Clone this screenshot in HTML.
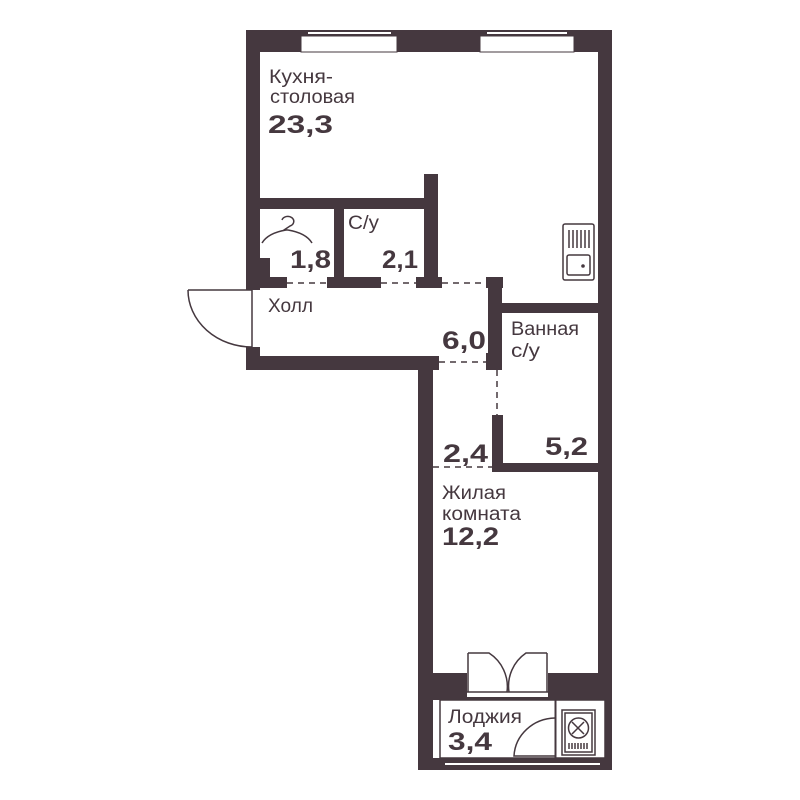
<!DOCTYPE html>
<html><head><meta charset="utf-8"><style>
html,body{margin:0;padding:0;background:#fff;}
svg{display:block}
text{font-family:"Liberation Sans",sans-serif;fill:#45383f}
.l{font-size:19px}
.n{font-size:25px;font-weight:bold}
</style></head><body>
<svg width="800" height="800" viewBox="0 0 800 800">
<g fill="#45383f">
<rect x="246" y="30" width="366" height="22"/>
<rect x="246" y="30" width="14" height="260"/>
<rect x="598" y="30" width="14" height="740"/>
<rect x="246" y="347" width="14" height="23"/>
<rect x="246" y="356" width="193" height="14"/>
<rect x="418" y="356" width="15" height="414"/>
<rect x="418" y="673" width="194" height="27"/>
<rect x="418" y="758" width="194" height="12"/>
<rect x="260" y="198" width="177" height="11"/>
<rect x="424" y="174" width="14" height="108"/>
<rect x="334" y="209" width="10" height="73"/>
<rect x="260" y="277" width="27" height="11"/>
<rect x="260" y="258" width="10" height="30"/>
<rect x="327" y="277" width="54" height="11"/>
<rect x="416" y="277" width="26" height="11"/>
<rect x="486" y="277" width="17" height="11"/>
<rect x="488" y="277" width="14" height="93"/>
<rect x="486" y="353" width="16" height="17"/>
<rect x="502" y="303" width="96" height="10"/>
<rect x="492" y="415" width="11" height="57"/>
<rect x="492" y="463" width="106" height="9"/>
</g>
<g fill="#fff" stroke="#45383f" stroke-width="1">
<rect x="301" y="36" width="96" height="16"/>
<rect x="480" y="36" width="94" height="16"/>
</g>
<line x1="308" y1="33" x2="391" y2="33" stroke="#fff" stroke-width="2"/>
<line x1="487" y1="33" x2="567" y2="33" stroke="#fff" stroke-width="2"/>
<g stroke="#45383f" stroke-width="1.5" stroke-dasharray="6,5" fill="none">
<line x1="287" y1="283" x2="327" y2="283"/>
<line x1="381" y1="283" x2="416" y2="283"/>
<line x1="442" y1="283" x2="486" y2="283"/>
<line x1="439" y1="362" x2="486" y2="362"/>
<line x1="497" y1="370" x2="497" y2="415"/>
<line x1="433" y1="467" x2="492" y2="467"/>
</g>
<g stroke="#45383f" stroke-width="1.5" fill="none">
<line x1="188" y1="290" x2="252" y2="290"/>
<line x1="252" y1="290" x2="252" y2="347"/>
<path d="M188 290 A64 57 0 0 0 252 347"/>
</g>
<rect x="467" y="652" width="81" height="45" fill="#fff"/>
<g stroke="#45383f" stroke-width="1.5" fill="none">
<line x1="467" y1="692" x2="548" y2="692"/>
<path d="M468 653 V692 M468 653 H489 A40 40 0 0 1 507 692"/>
<path d="M547 653 V692 M547 653 H526 A40 40 0 0 0 509 692"/>
</g>
<rect x="440" y="700" width="165" height="58" fill="#fff" stroke="#45383f" stroke-width="1.5"/>
<line x1="445" y1="764" x2="600" y2="764" stroke="#fff" stroke-width="2"/>
<line x1="555.5" y1="700" x2="555.5" y2="758" stroke="#45383f" stroke-width="2"/>
<g stroke="#45383f" stroke-width="1.5" fill="none">
<path d="M555 718 A42 40 0 0 0 514 756 H555"/>
<rect x="562" y="710" width="33" height="45"/>
<rect x="565" y="713" width="27" height="39"/>
<circle cx="578.5" cy="728" r="10"/>
<path d="M578 728 l-6 -6 M578 728 l6 -6 M578 728 l-6 6 M578 728 l6 6"/>
<path d="M569 743 v6 M572 743 v6 M575 743 v6 M578 743 v6 M581 743 v6 M584 743 v6 M587 743 v6"/>
</g>
<g stroke="#45383f" stroke-width="1.5" fill="#fff">
<rect x="563" y="224" width="31" height="56" rx="2"/>
<rect x="567" y="255" width="23" height="20" rx="2"/>
<path d="M569 230 v18 M573 230 v18 M577 230 v18 M581 230 v18 M585 230 v18 M589 230 v18" fill="none"/>
</g>
<circle cx="583" cy="266" r="1.8" fill="#45383f"/>
<path d="M282 220 a6 5 0 1 1 8 6 l-6 4 h4 M286 230 q-18 3 -24 13 M288 230 q18 3 24 13" stroke="#45383f" stroke-width="1.5" fill="none"/>
<text class="l" x="269" y="83" textLength="64" lengthAdjust="spacingAndGlyphs">Кухня-</text>
<text class="l" x="270" y="103" textLength="85" lengthAdjust="spacingAndGlyphs">столовая</text>
<text class="n" x="268" y="133" textLength="65" lengthAdjust="spacingAndGlyphs">23,3</text>
<text class="n" x="290" y="268" textLength="41" lengthAdjust="spacingAndGlyphs">1,8</text>
<text class="l" x="348" y="229" textLength="31" lengthAdjust="spacingAndGlyphs">С/у</text>
<text class="n" x="382" y="268" textLength="36" lengthAdjust="spacingAndGlyphs">2,1</text>
<text class="l" x="268" y="312" textLength="45" lengthAdjust="spacingAndGlyphs">Холл</text>
<text class="n" x="442" y="349" textLength="44" lengthAdjust="spacingAndGlyphs">6,0</text>
<text class="l" x="511" y="335" textLength="68" lengthAdjust="spacingAndGlyphs">Ванная</text>
<text class="l" x="511" y="357" textLength="29" lengthAdjust="spacingAndGlyphs">с/у</text>
<text class="n" x="443" y="462" textLength="45" lengthAdjust="spacingAndGlyphs">2,4</text>
<text class="n" x="545" y="455" textLength="43" lengthAdjust="spacingAndGlyphs">5,2</text>
<text class="l" x="442" y="499" textLength="64" lengthAdjust="spacingAndGlyphs">Жилая</text>
<text class="l" x="442" y="520" textLength="79" lengthAdjust="spacingAndGlyphs">комната</text>
<text class="n" x="442" y="545" textLength="57" lengthAdjust="spacingAndGlyphs">12,2</text>
<text class="l" x="448" y="723" textLength="74" lengthAdjust="spacingAndGlyphs">Лоджия</text>
<text class="n" x="448" y="750" textLength="44" lengthAdjust="spacingAndGlyphs">3,4</text>
</svg>
</body></html>
